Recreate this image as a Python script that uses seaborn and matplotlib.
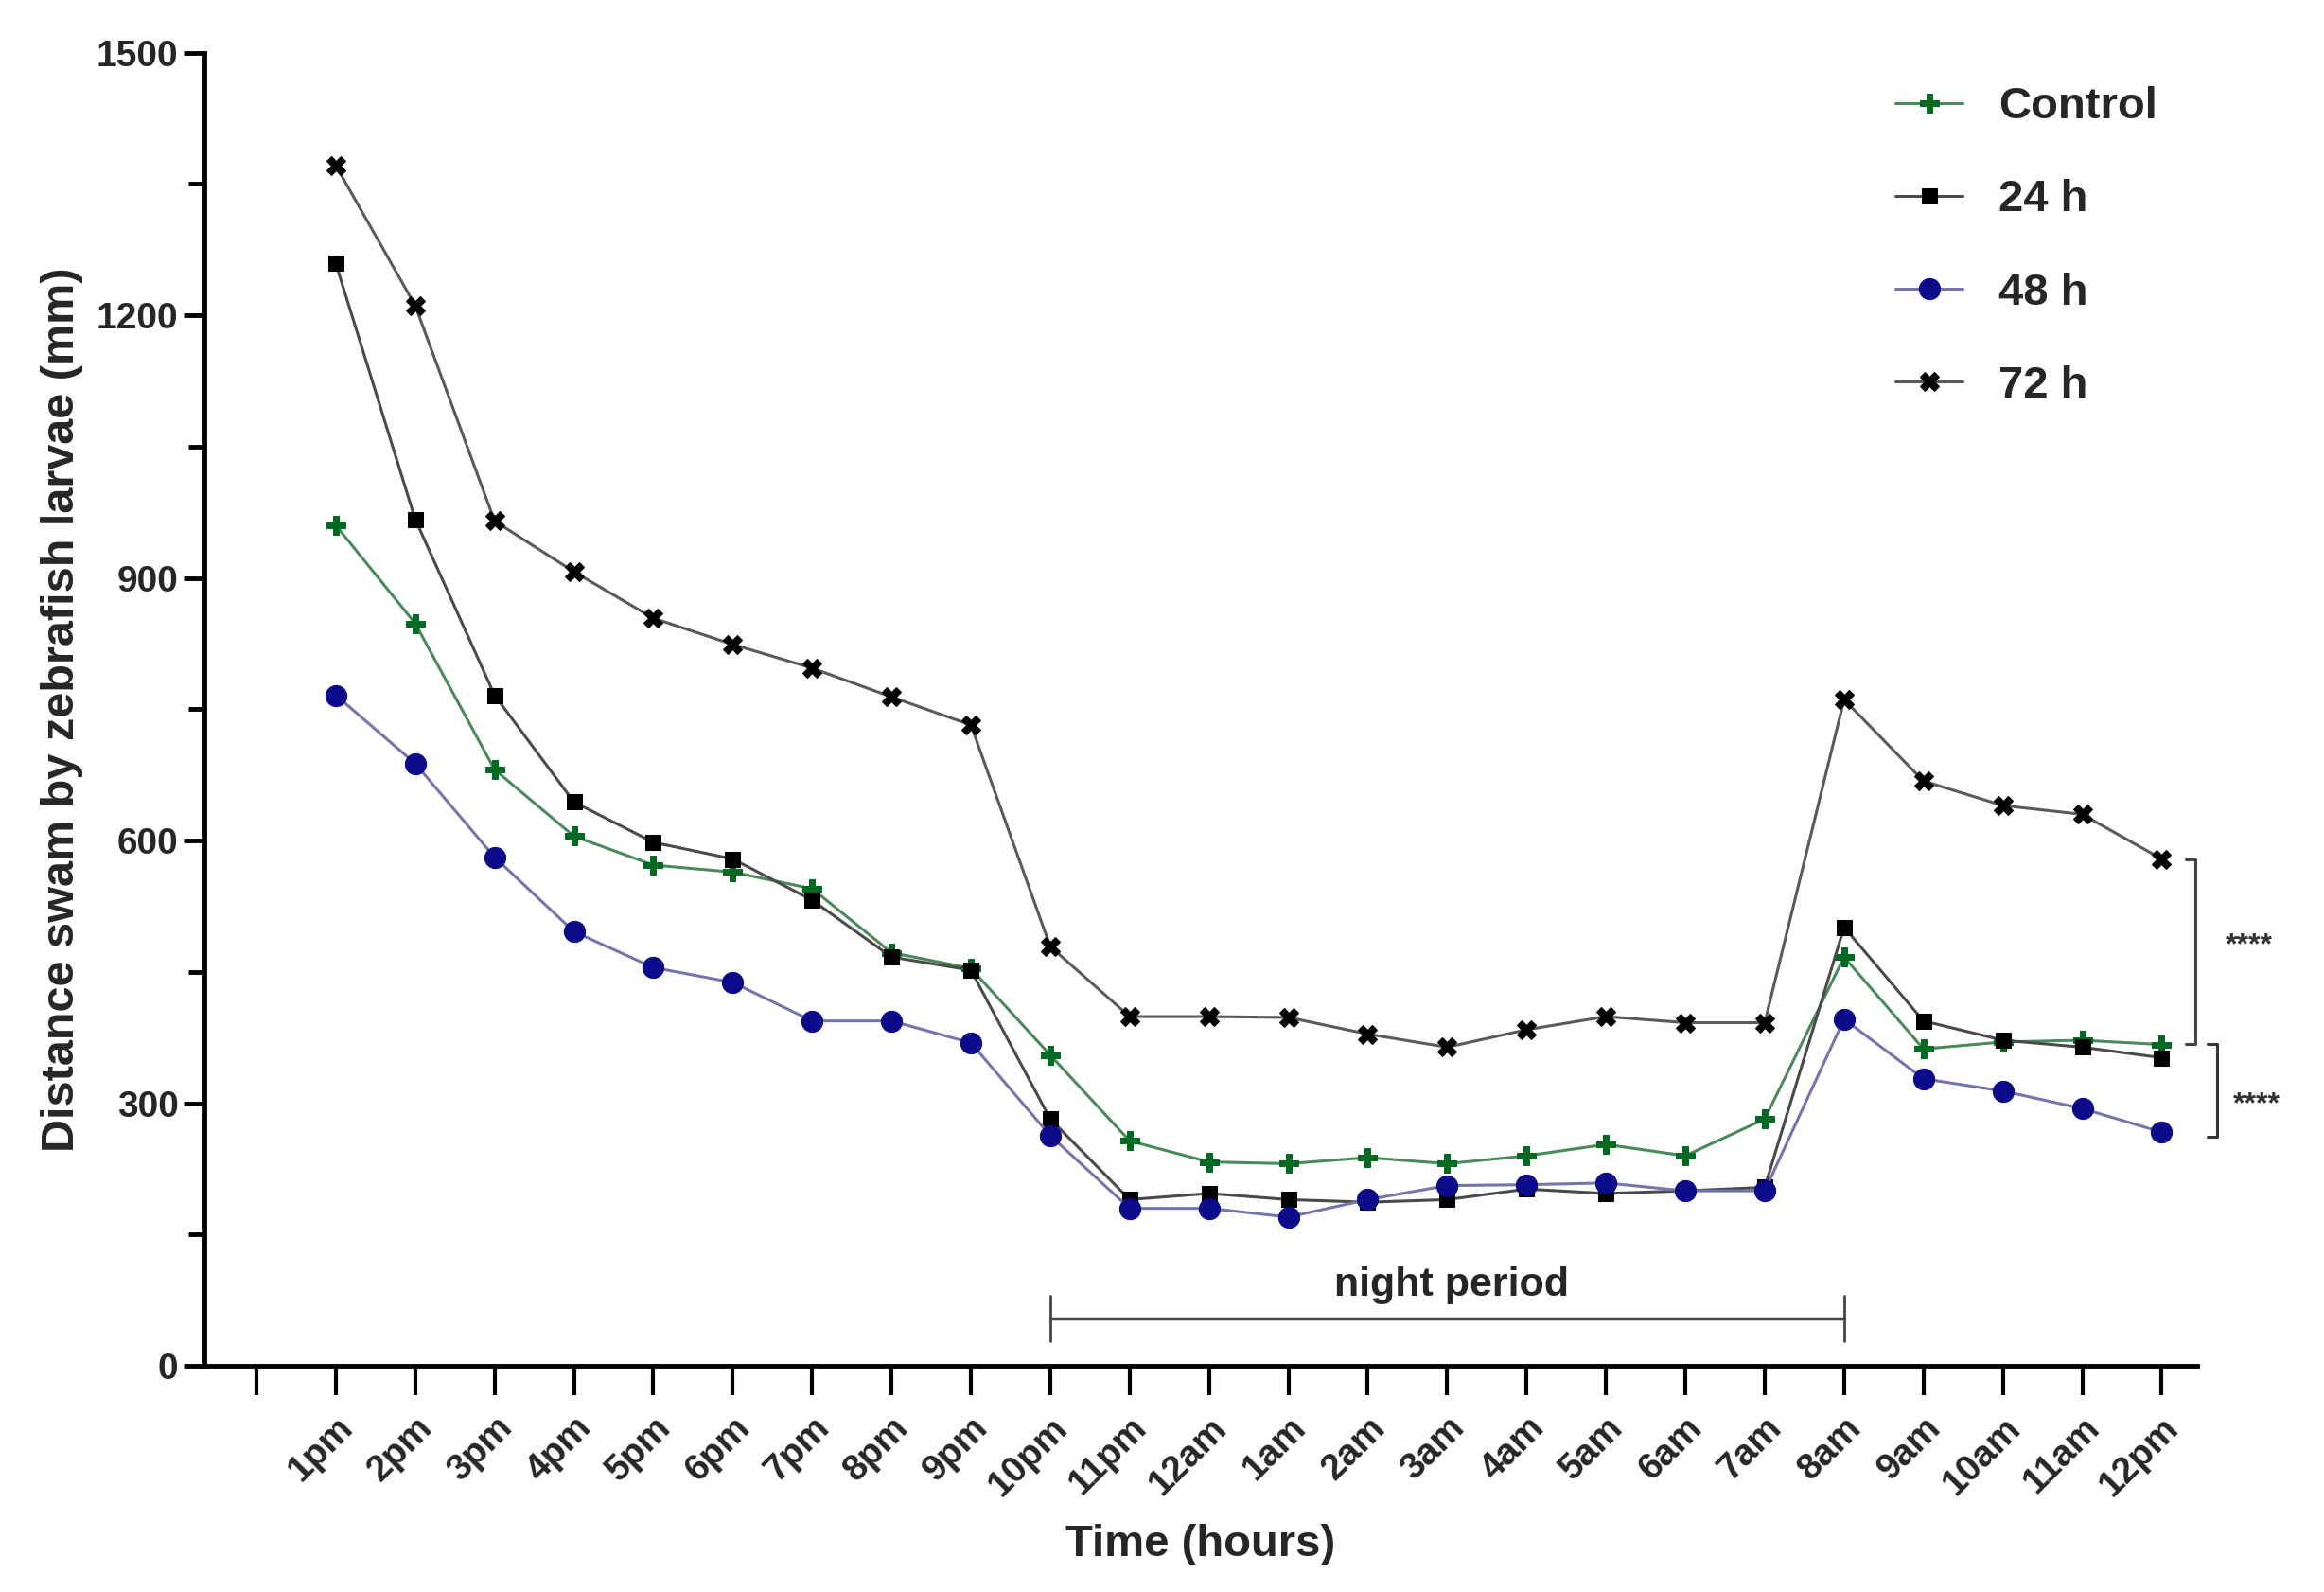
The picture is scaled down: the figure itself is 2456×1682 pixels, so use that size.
import numpy as np
import pandas as pd
import matplotlib
matplotlib.use("Agg")
import matplotlib.pyplot as plt
import seaborn as sns

# time points (first tick is an empty slot before 1pm)
hours = ['', '1pm', '2pm', '3pm', '4pm', '5pm', '6pm', '7pm', '8pm', '9pm',
         '10pm', '11pm', '12am', '1am', '2am', '3am', '4am', '5am', '6am',
         '7am', '8am', '9am', '10am', '11am', '12pm']

control = [960, 848, 681, 605, 572, 564, 545, 472, 454, 355, 257, 233, 231,
           238, 231, 240, 253, 240, 282, 467, 362, 370, 372, 367]
h24 = [1259, 967, 766, 644, 598, 579, 532, 467, 452, 282, 190, 197, 190,
       187, 190, 202, 197, 200, 204, 501, 394, 372, 364, 352]
h48 = [766, 688, 581, 496, 455, 438, 394, 394, 369, 263, 180, 180, 170,
       190, 206, 207, 209, 200, 200, 396, 328, 314, 294, 267]
h72 = [1371, 1211, 965, 907, 854, 824, 797, 764, 732, 479, 399, 399, 398,
       379, 364, 384, 399, 392, 392, 761, 668, 640, 630, 579]

groups = ['Control', '24 h', '48 h', '72 h']
series = [control, h24, h48, h72]

sns.set_style("white")
plt.rcParams['font.family'] = ['Liberation Sans', 'DejaVu Sans']
plt.rcParams['font.weight'] = 'bold'

x_pos = np.arange(1, len(hours))
df = pd.DataFrame({
    'x': np.tile(x_pos, len(groups)),
    'value': np.concatenate(series),
    'group': np.repeat(groups, len(x_pos)),
})

fig = plt.figure(figsize=(24.56, 16.82), dpi=100)
ax = fig.add_axes([0.0878, 0.142, 0.8577, 0.825])

styles = {
    'Control': dict(color='#4a8a5a', marker='P', ms=14, mfc='#006a22', mec='#006a22'),
    '24 h': dict(color='#4a4a4a', marker='s', ms=11, mfc='black', mec='black'),
    '48 h': dict(color='#7575aa', marker='o', ms=16, mfc='#0a0a8a', mec='#0a0a8a'),
    '72 h': dict(color='#5a5a5a', marker='X', ms=14, mfc='black', mec='black'),
}

for g in groups:
    st = styles[g]
    sns.lineplot(data=df[df['group'] == g], x='x', y='value', ax=ax,
                 color=st['color'], marker=st['marker'], markersize=st['ms'],
                 markerfacecolor=st['mfc'], markeredgecolor=st['mec'],
                 linewidth=2.2, label=g)

# axes styling
ax.set_xlim(-0.66, 24.45)
ax.set_ylim(0, 1500)
ax.set_xticks(np.arange(len(hours)))
ax.set_xticklabels(hours, rotation=45, ha='right', rotation_mode='anchor',
                   fontsize=28, fontweight='bold')
ax.set_yticks([0, 300, 600, 900, 1200, 1500])
ax.set_yticks(np.arange(150, 1500, 300), minor=True)
ax.tick_params(axis='y', which='major', left=True, labelsize=28, width=3.5,
               length=16, direction='out', color='black')
ax.tick_params(axis='y', which='minor', left=True, width=3.5, length=12,
               direction='out', color='black')
ax.tick_params(axis='x', bottom=True, width=3, length=22, direction='out',
               pad=12, color='black')
for lab in ax.get_yticklabels():
    lab.set_fontweight('bold')
for s in ['top', 'right']:
    ax.spines[s].set_visible(False)
for s in ['left', 'bottom']:
    ax.spines[s].set_linewidth(3.5)
    ax.spines[s].set_color('black')

ax.set_xlabel('Time (hours)', fontsize=34, fontweight='bold', labelpad=16)
ax.set_ylabel('Distance swam by zebrafish larvae (mm)', fontsize=35,
              fontweight='bold', labelpad=10)

# night period bracket
ax.plot([10, 20], [54, 54], color='#444444', lw=2.5)
ax.plot([10, 10], [28, 80], color='#444444', lw=2)
ax.plot([20, 20], [28, 80], color='#444444', lw=2)
ax.text(15.05, 70, 'night period', ha='center', va='bottom',
        fontsize=31, fontweight='bold')

# significance brackets
ax.plot([24.3, 24.42, 24.42, 24.3], [579, 579, 368, 368], color='#444444',
        lw=2.2, clip_on=False)
ax.text(25.1, 480, '****', ha='center', va='center', fontsize=23,
        color='#333333', clip_on=False)
ax.plot([24.58, 24.7, 24.7, 24.58], [368, 368, 262, 262], color='#333333',
        lw=2.2, clip_on=False)
ax.text(25.2, 298, '****', ha='center', va='center', fontsize=23,
        color='#333333', clip_on=False)

leg = ax.legend(loc='upper right', bbox_to_anchor=(1.0, 1.005), frameon=False,
                labelspacing=1.15, handlelength=1.5, handletextpad=0.8,
                prop={'weight': 'bold', 'size': 34})

fig.savefig('out.png', dpi=100)
